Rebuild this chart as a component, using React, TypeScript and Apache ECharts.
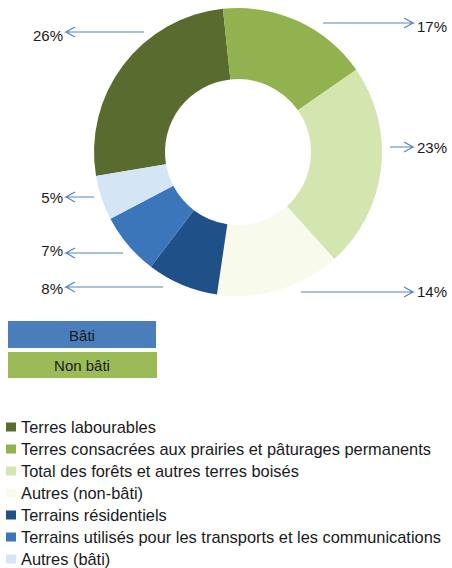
import React, { useEffect, useRef } from "react";
import * as echarts from "echarts";

const categories = [
  "Terres labourables",
  "Terres consacrées aux prairies et pâturages permanents",
  "Total des forêts et autres terres boisés",
  "Autres (non-bâti)",
  "Terrains résidentiels",
  "Terrains utilisés pour les transports et les communications",
  "Autres (bâti)",
];
const values = [26, 17, 23, 14, 8, 7, 5];
const colors = ["#5a6b30", "#91b24e", "#d4e5b0", "#f8fbec", "#1f5087", "#3b75ba", "#d4e6f5"];
const groupLabels = ["Bâti", "Non bâti"];

// label placement (annotation layout, by data index)
const labelLayoutInfo = [
  { side: "L", textY: 35, lineY: 32, from: 144 },
  { side: "R", textY: 26, lineY: 23, from: 323 },
  { side: "R", textY: 147, lineY: 147, from: 390 },
  { side: "R", textY: 291, lineY: 292, from: 301 },
  { side: "L", textY: 288, lineY: 287, from: 163 },
  { side: "L", textY: 250, lineY: 253, from: 123 },
  { side: "L", textY: 197, lineY: 197, from: 94 },
];

const FONT = "'Liberation Sans', Arial, sans-serif";

export default function App() {
  const ref = useRef<HTMLDivElement>(null);
  useEffect(() => {
    if (!ref.current) return;
    const chart = echarts.init(ref.current, null, { renderer: "svg" });
    const leftTextX = 63;
    const rightTextX = 417;
    const leftTip = 66;
    const rightTip = 413;
    chart.setOption({
      animation: false,
      color: colors,
      textStyle: { fontFamily: FONT },
      legend: {
        orient: "vertical",
        left: 6,
        top: 419,
        height: 149,
        padding: 0,
        itemWidth: 10,
        itemHeight: 9,
        itemGap: 6,
        icon: "rect",
        textStyle: { fontSize: 16.4, color: "#1a1a1a", fontFamily: FONT, lineHeight: 16 },
        data: categories,
      },
      graphic: [
        {
          type: "rect",
          shape: { x: 8, y: 321, width: 148, height: 27 },
          style: { fill: "#4a7ebb" },
        },
        {
          type: "text",
          x: 82,
          y: 335,
          style: {
            text: groupLabels[0],
            fill: "#1a1a1a",
            font: `15px ${FONT}`,
            textAlign: "center",
            textVerticalAlign: "middle",
          },
        },
        {
          type: "rect",
          shape: { x: 8, y: 352, width: 149, height: 26 },
          style: { fill: "#9bbb59" },
        },
        {
          type: "text",
          x: 82,
          y: 365,
          style: {
            text: groupLabels[1],
            fill: "#1a1a1a",
            font: `15px ${FONT}`,
            textAlign: "center",
            textVerticalAlign: "middle",
          },
        },
      ],
      series: [
        {
          type: "pie",
          center: [238, 152],
          radius: [73, 144],
          startAngle: 189.6,
          clockwise: true,
          avoidLabelOverlap: false,
          itemStyle: { borderWidth: 0 },
          label: {
            show: true,
            position: "outside",
            formatter: (p: any) => `${p.value}%`,
            fontSize: 15,
            color: "#1a1a1a",
            fontFamily: FONT,
          },
          labelLine: {
            show: true,
            lineStyle: { color: "#5585c5", width: 1.2 },
          },
          labelLayout: (params: any) => {
            const L = labelLayoutInfo[params.dataIndex];
            if (L.side === "L") {
              return {
                x: leftTextX,
                y: L.textY,
                align: "right",
                verticalAlign: "middle",
                labelLinePoints: [
                  [L.from, L.lineY],
                  [leftTip, L.lineY],
                  [leftTip + 9, L.lineY - 5],
                  [leftTip, L.lineY],
                  [leftTip + 9, L.lineY + 5],
                ],
              };
            }
            return {
              x: rightTextX,
              y: L.textY,
              align: "left",
              verticalAlign: "middle",
              labelLinePoints: [
                [L.from, L.lineY],
                [rightTip, L.lineY],
                [rightTip - 9, L.lineY - 5],
                [rightTip, L.lineY],
                [rightTip - 9, L.lineY + 5],
              ],
            };
          },
          data: categories.map((name, i) => ({ name, value: values[i] })),
        },
      ],
    });
    return () => chart.dispose();
  }, []);
  return (
    <div
      ref={ref}
      style={{ position: "fixed", left: 0, top: 0, width: 452, height: 568, background: "#fff" }}
    />
  );
}
